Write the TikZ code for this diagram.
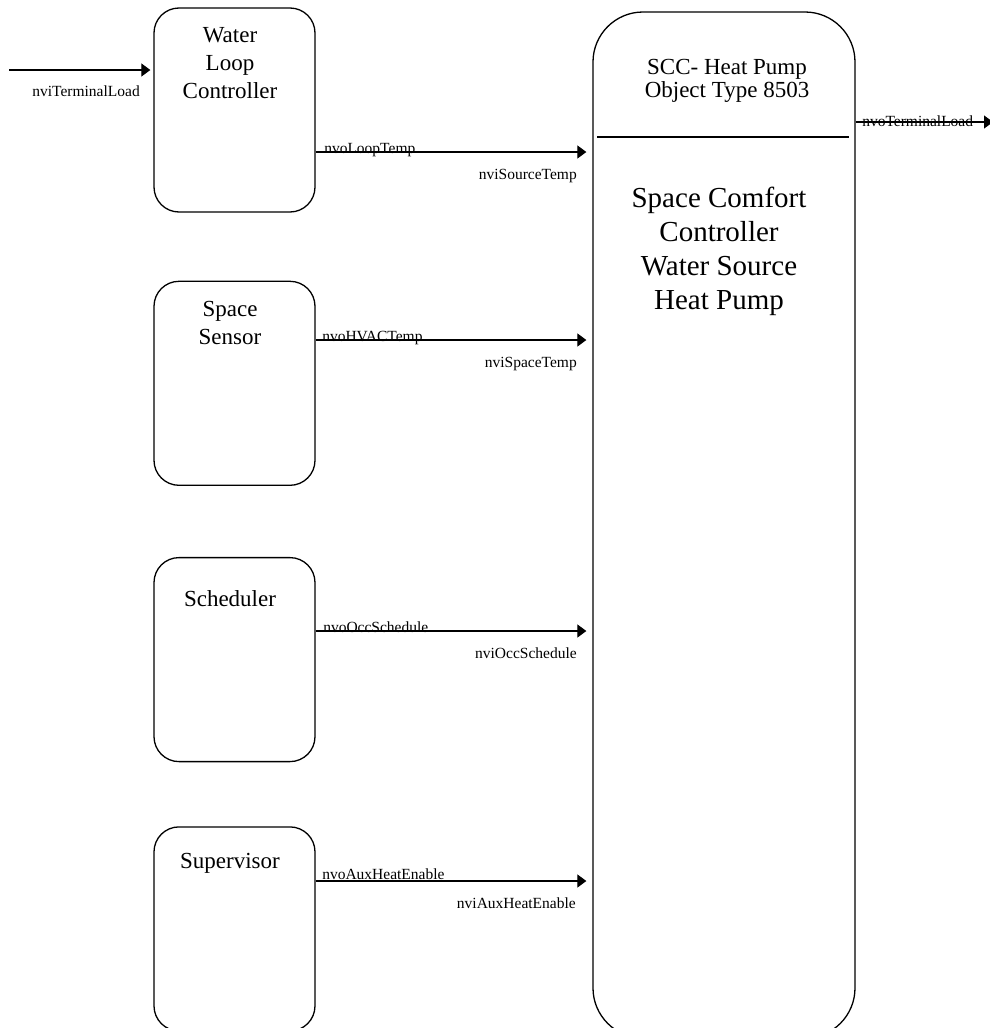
\documentclass[tikz,border=0pt]{standalone}
\usepackage{fontspec}
\setmainfont{Liberation Serif}
\usetikzlibrary{positioning, arrows.meta}
\tikzset{
	unit/.style={
		rectangle, draw, line width=1.3pt,
		minimum width=161pt, minimum height=204pt,
		rounded corners=25pt,
	},
	title/.style={
		anchor=north, align=center, inner sep=0pt,
		font=\fontsize{23}{28}\selectfont,
	},
	link/.style={
		draw, line width=1.2pt, -{Triangle[width=13pt,length=9pt]},
	},
	pin/.style={
		inner sep=0pt, font=\fontsize{15.5}{18}\selectfont,
	}
}

\begin{document}
\begin{tikzpicture}[x=1pt, y=-1pt]
	\useasboundingbox (0,0) rectangle (989,1028);
	
	\node [unit] (wlc) at (234.5,110) {};
	\node [unit, below=68pt of wlc] (sen) {};
	\node [unit, below=71pt of sen] (sch) {};
	\node [unit, below=64pt of sch] (sup) {};
	\node [unit, minimum width=262pt, minimum height=1026pt, rounded corners=50pt] (hp) at (724,525) {};
	
	\node [title] (wlcT) at ([xshift=-4.5pt,yshift=-20pt]wlc.north) {Water\\Loop\\Controller};
	\node [title] (senT) at ([xshift=-4.5pt,yshift=-20pt]sen.north) {Space\\Sensor};
	\node [title] (schT) at ([xshift=-4.5pt,yshift=-33pt]sch.north) {Scheduler};
	\node [title] (supT) at ([xshift=-4.5pt,yshift=-27pt]sup.north) {Supervisor};
	\node [title, font=\fontsize{23}{23.5}\selectfont] (hpT) at ([xshift=3pt,yshift=-47.5pt]hp.north) {SCC- Heat Pump\\Object Type 8503};
	\node [title, font=\fontsize{29}{34}\selectfont] (hpD) at ([xshift=-5pt,yshift=-176pt]hp.north) {Space Comfort\\Controller\\Water Source\\Heat Pump};
	\draw [line width=1.3pt] ([xshift=5pt]hp.west |- 0,137) -- ([xshift=-7pt]hp.east |- 0,137);
	
	\coordinate (tlIn) at (9,70);
	\coordinate (tlOut) at (993,122);
	\coordinate (srcIn) at ([xshift=-6pt]hp.west |- 0,152);
	\coordinate (spcIn) at ([xshift=-6pt]hp.west |- 0,340);
	\coordinate (occIn) at ([xshift=-6pt]hp.west |- 0,631);
	\coordinate (auxIn) at ([xshift=-6pt]hp.west |- 0,881);
	
	\path [link] (tlIn) -- ([xshift=-3pt]wlc.west |- tlIn) node [pin, anchor=base east, at end, xshift=-10pt, yshift=-26pt] {nviTerminalLoad};
	\path [link] (wlc.east |- srcIn) -- (srcIn)
		node [pin, anchor=base west, at start, xshift=8pt, yshift=-1pt] {nvoLoopTemp}
		node [pin, anchor=base east, at end, xshift=-9pt, yshift=-27pt] {nviSourceTemp};
	\path [link] (sen.east |- spcIn) -- (spcIn)
		node [pin, anchor=base west, at start, xshift=6pt, yshift=-1pt] {nvoHVACTemp}
		node [pin, anchor=base east, at end, xshift=-9pt, yshift=-27pt] {nviSpaceTemp};
	\path [link] (sch.east |- occIn) -- (occIn)
		node [pin, anchor=base west, at start, xshift=7pt, yshift=-1pt] {nvoOccSchedule}
		node [pin, anchor=base east, at end, xshift=-9pt, yshift=-27pt] {nviOccSchedule};
	\path [link] (sup.east |- auxIn) -- (auxIn)
		node [pin, anchor=base west, at start, xshift=6pt, yshift=2pt] {nvoAuxHeatEnable}
		node [pin, anchor=base east, at end, xshift=-10pt, yshift=-27pt] {nviAuxHeatEnable};
	\path [link] (hp.east |- tlOut) -- (tlOut) node [pin, anchor=base west, at start, xshift=6pt, yshift=-4pt] {nvoTerminalLoad};
\end{tikzpicture}
\end{document}
